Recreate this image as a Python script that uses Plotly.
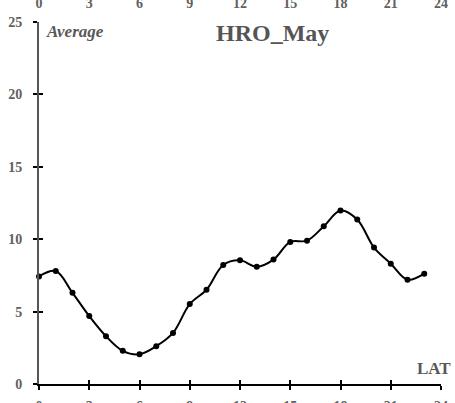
import plotly.graph_objects as go

# Hourly average values (LAT hour 0..23)
hours = list(range(24))
average = [7.43, 7.80, 6.30, 4.69, 3.30, 2.29, 2.05, 2.61, 3.53, 5.52, 6.51, 8.22,
           8.54, 8.10, 8.59, 9.81, 9.90, 10.89, 11.98, 11.36, 9.42, 8.31, 7.20, 7.62]
x_ticks = [0, 3, 6, 9, 12, 15, 18, 21, 24]
y_ticks = [0, 5, 10, 15, 20, 25]

SERIF = "Liberation Serif, Times New Roman, serif"
LABEL_GRAY = "#606060"

fig = go.Figure()
fig.add_trace(go.Scatter(
    x=hours, y=average, mode="lines+markers",
    line=dict(color="black", width=2, shape="spline", smoothing=1.0),
    marker=dict(color="black", size=6),
    cliponaxis=False, showlegend=False,
))
# empty traces so the overlay axes (inner ticks, top labels) are laid out
fig.add_trace(go.Scatter(x=[None], y=[None], xaxis="x2", yaxis="y2", showlegend=False))
fig.add_trace(go.Scatter(x=[None], y=[None], xaxis="x3", yaxis="y", showlegend=False))

tick_font = dict(family=SERIF, size=14, color=LABEL_GRAY, weight="bold")
common = dict(showgrid=False, zeroline=False, automargin=False)

fig.update_layout(
    width=455, height=403,
    margin=dict(l=39, r=14, t=22, b=19),
    paper_bgcolor="white", plot_bgcolor="white",
    xaxis=dict(range=[0, 24], tickvals=x_ticks, ticks="outside", ticklen=4,
               tickcolor="black", tickwidth=1.5, showline=True, linecolor="black",
               linewidth=1.5, tickfont=tick_font, ticklabelstandoff=4, **common),
    xaxis2=dict(range=[0, 24], tickvals=x_ticks, overlaying="x", anchor="y2", side="bottom",
                ticks="inside", ticklen=4, tickcolor="black", tickwidth=1.5,
                showticklabels=False, showline=False, **common),
    xaxis3=dict(range=[0, 24], tickvals=x_ticks, overlaying="x", anchor="y", side="top",
                ticks="", showline=False, tickfont=tick_font, ticklabelstandoff=10,
                **common),
    yaxis=dict(range=[0, 25], tickvals=y_ticks, ticks="outside", ticklen=4,
               tickcolor="black", tickwidth=1.5, showline=True, linecolor="#555555",
               linewidth=2, tickfont=tick_font, ticklabelstandoff=8, **common),
    yaxis2=dict(range=[0, 25], tickvals=y_ticks, overlaying="y", anchor="x2", side="left",
                ticks="inside", ticklen=4, tickcolor="black", tickwidth=1.5,
                showticklabels=False, showline=False, **common),
    annotations=[
        dict(text="HRO_May", x=0.58, y=1.012, xref="paper", yref="paper", xanchor="center",
             yanchor="top", showarrow=False,
             font=dict(family=SERIF, size=24, color="#555555", weight="bold")),
        dict(text="<i>Average</i>", x=0.012, y=1.006, xref="paper", yref="paper",
             xanchor="left", yanchor="top", showarrow=False,
             font=dict(family=SERIF, size=17, color="#585858", weight="bold")),
        dict(text="LAT", x=1.03, y=0.3, xref="paper", yref="y", xanchor="right",
             yanchor="bottom", showarrow=False,
             font=dict(family=SERIF, size=17, color="#585858", weight="bold")),
    ],
)

fig.write_html("out.html")
